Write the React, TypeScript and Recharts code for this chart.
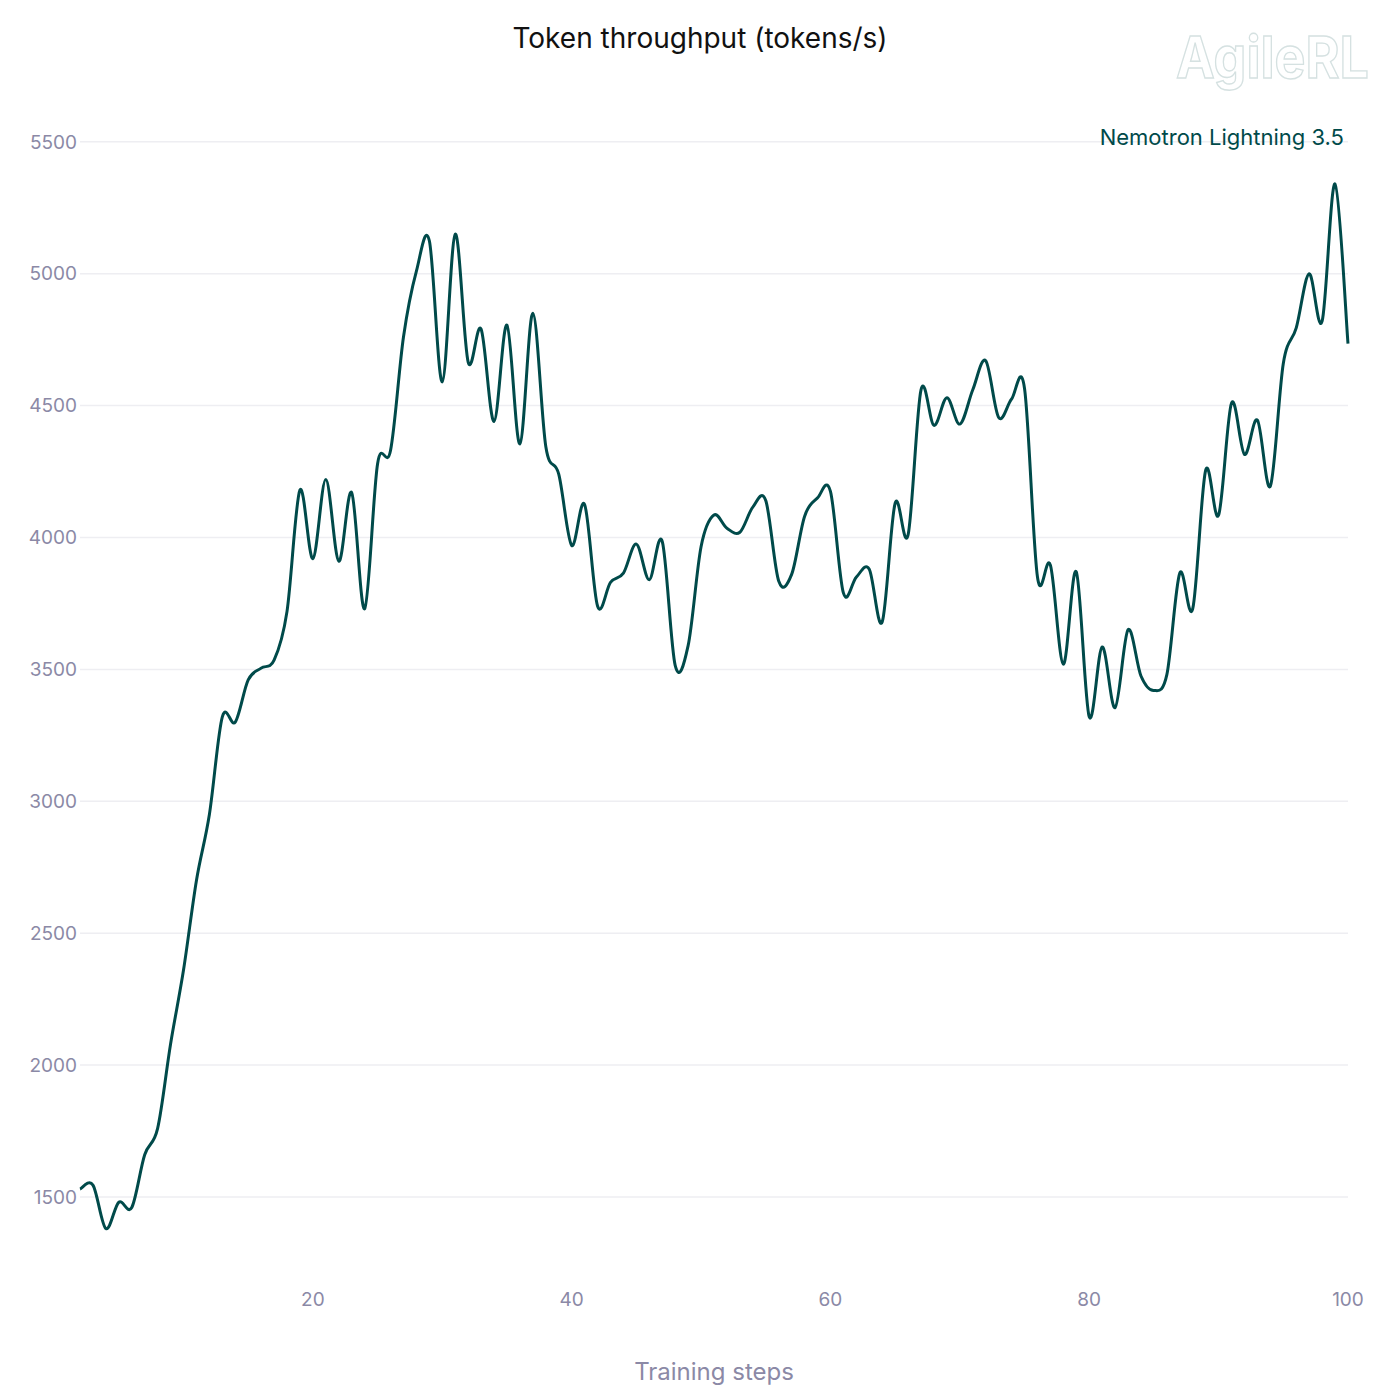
import {
  Line,
  LineChart,
  ReferenceLine,
  XAxis,
  YAxis,
} from "recharts";

const steps = [
  2, 3, 4, 5, 6, 7, 8, 9, 10, 11, 12, 13, 14, 15, 16, 17, 18, 19, 20, 21, 22,
  23, 24, 25, 26, 27, 28, 29, 30, 31, 32, 33, 34, 35, 36, 37, 38, 39, 40, 41,
  42, 43, 44, 45, 46, 47, 48, 49, 50, 51, 52, 53, 54, 55, 56, 57, 58, 59, 60,
  61, 62, 63, 64, 65, 66, 67, 68, 69, 70, 71, 72, 73, 74, 75, 76, 77, 78, 79,
  80, 81, 82, 83, 84, 85, 86, 87, 88, 89, 90, 91, 92, 93, 94, 95, 96, 97, 98,
  99, 100,
];

const throughput = [
  1530, 1545, 1380, 1480, 1460, 1660, 1760, 2080, 2360, 2700, 2950, 3320,
  3300, 3460, 3505, 3535, 3720, 4180, 3920, 4220, 3910, 4170, 3730, 4280,
  4330, 4760, 5010, 5125, 4590, 5150, 4665, 4790, 4440, 4805, 4355, 4850,
  4345, 4240, 3970, 4125, 3740, 3830, 3865, 3975, 3840, 3985, 3515, 3590,
  3965, 4085, 4035, 4020, 4115, 4140, 3835, 3860, 4080, 4150, 4175, 3790,
  3850, 3880, 3680, 4130, 4010, 4560, 4425, 4530, 4430, 4560, 4670, 4455,
  4525, 4565, 3850, 3895, 3520, 3870, 3320, 3585, 3355, 3650, 3475, 3420,
  3480, 3865, 3730, 4255, 4085, 4510, 4315, 4445, 4195, 4660, 4795, 5000,
  4820, 5340, 4735,
];

const xTicks = [20, 40, 60, 80, 100];
const yTicks = [1500, 2000, 2500, 3000, 3500, 4000, 4500, 5000, 5500];
const seriesName = "Nemotron Lightning 3.5";

const data = steps.map((step, i) => ({ step, value: throughput[i] }));

const FONT = "Inter, 'Noto Sans', sans-serif";
const TICK_COLOR = "#8b89a6";
const LINE_COLOR = "#004a4a";

// catmull-rom style spline, close to plotly's "spline" shape
const splineCurve = (context: any) => {
  let pts: number[][] = [];
  return {
    areaStart() {},
    areaEnd() {},
    lineStart() {
      pts = [];
    },
    point(x: number, y: number) {
      pts.push([+x, +y]);
    },
    lineEnd() {
      const n = pts.length;
      if (!n) return;
      context.moveTo(pts[0][0], pts[0][1]);
      for (let i = 0; i < n - 1; i++) {
        const p0 = pts[Math.max(i - 1, 0)];
        const p1 = pts[i];
        const p2 = pts[i + 1];
        const p3 = pts[Math.min(i + 2, n - 1)];
        context.bezierCurveTo(
          p1[0] + (p2[0] - p0[0]) / 6,
          p1[1] + (p2[1] - p0[1]) / 6,
          p2[0] - (p3[0] - p1[0]) / 6,
          p2[1] - (p3[1] - p1[1]) / 6,
          p2[0],
          p2[1]
        );
      }
    },
  };
};

const App = () => {
  return (
    <div style={{ position: "absolute", left: 0, top: 0, width: 1400, height: 1400, background: "#fff" }}>
      <div
        style={{
          position: "absolute",
          left: 0,
          top: 21,
          width: 1400,
          textAlign: "center",
          fontFamily: FONT,
          fontSize: 28,
          lineHeight: "34px",
          color: "#111",
        }}
      >
        Token throughput (tokens/s)
      </div>
      {/* logo, outlined */}
      <svg
        style={{ position: "absolute", left: 1165, top: 20 }}
        width={230}
        height={80}
      >
        <text
          x={11}
          y={58}
          fontFamily={FONT}
          fontWeight={700}
          fontSize={58}
          textLength={193}
          lengthAdjust="spacingAndGlyphs"
          fill="none"
          stroke="#d5e1e1"
          strokeWidth={1.4}
        >
          AgileRL
        </text>
      </svg>
      <LineChart
        width={1400}
        height={1400}
        data={data}
        margin={{ top: 126, right: 52, left: 0, bottom: 0 }}
        style={{ fontFamily: FONT }}
      >
        {yTicks.map((t) => (
          <ReferenceLine key={t} y={t} stroke="#eeeef2" strokeWidth={1.5} />
        ))}
        <XAxis
          dataKey="step"
          type="number"
          domain={[2, 100]}
          ticks={xTicks}
          height={116}
          axisLine={false}
          tickLine={false}
          tickSize={0}
          tickMargin={9}
          tick={{ fill: TICK_COLOR, fontSize: 19 }}
          label={{
            value: "Training steps",
            position: "insideBottom",
            offset: 20,
            fill: TICK_COLOR,
            fontSize: 24,
          }}
        />
        <YAxis
          type="number"
          domain={[1170, 5560]}
          ticks={yTicks}
          width={80}
          axisLine={false}
          tickLine={false}
          tickSize={0}
          tickMargin={3}
          tick={{ fill: TICK_COLOR, fontSize: 19 }}
        />
        <Line
          dataKey="value"
          name={seriesName}
          type={splineCurve as any}
          stroke={LINE_COLOR}
          strokeWidth={3}
          dot={false}
          activeDot={false}
          isAnimationActive={false}
        />
      </LineChart>
      <div
        style={{
          position: "absolute",
          right: 56,
          top: 123,
          zIndex: 2,
          color: LINE_COLOR,
          fontFamily: FONT,
          fontSize: 22,
          lineHeight: "28px",
          whiteSpace: "nowrap",
        }}
      >
        {seriesName}
      </div>
    </div>
  );
};

export default App;
